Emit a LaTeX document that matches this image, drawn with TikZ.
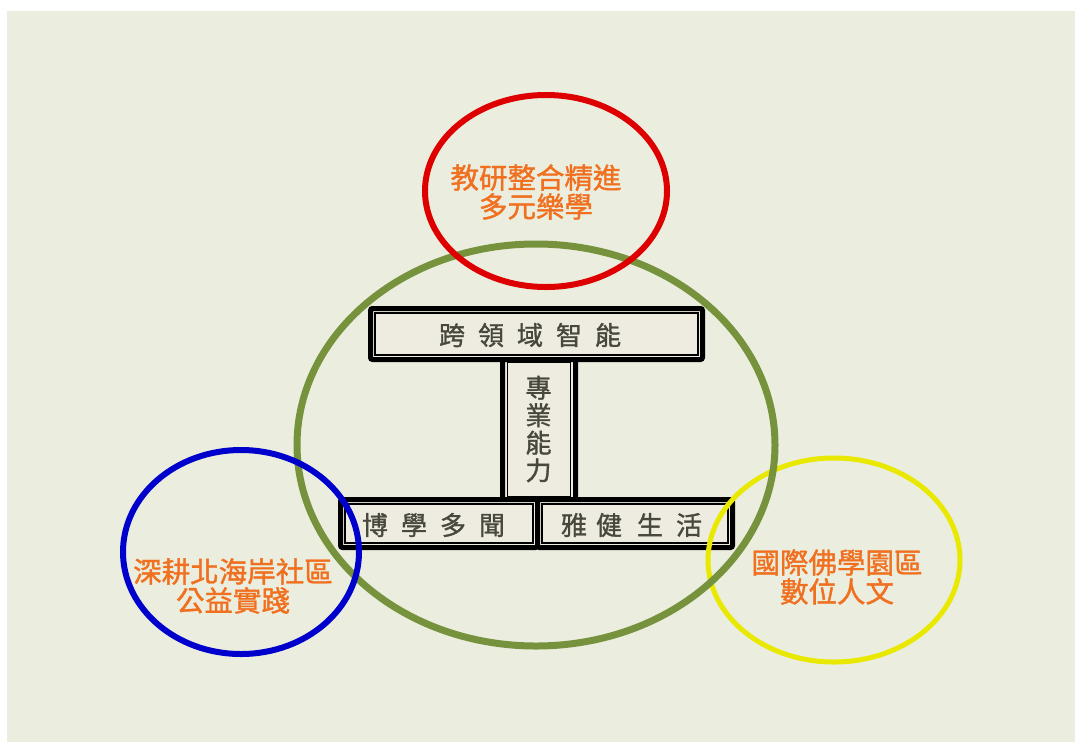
\documentclass[tikz,border=0pt]{standalone}
\usepackage{fontspec}
\newfontfamily\cjk[FakeBold=1.3]{Noto Sans CJK TC}
\definecolor{bgc}{RGB}{235,238,222}
\definecolor{boxfill}{RGB}{238,236,225}
\definecolor{greenc}{RGB}{118,146,60}
\definecolor{redc}{RGB}{222,0,0}
\definecolor{bluec}{RGB}{0,0,204}
\definecolor{yellowc}{RGB}{232,232,0}
\definecolor{orangec}{RGB}{240,112,32}
\definecolor{boxtext}{RGB}{72,72,60}
\begin{document}
\begin{tikzpicture}[x=1pt,y=-1pt,
  outerbox/.style={fill=boxfill,draw=black,line width=5pt,rounded corners=2pt},
  innerbox/.style={draw=black,line width=1.2pt},
  boxlabel/.style={font=\cjk\fontsize{26}{27.5}\selectfont,text=boxtext,inner sep=0pt},
  ringlabel/.style={font=\cjk\fontsize{28.5}{29}\selectfont,text=orangec,align=center,inner sep=0pt}]
\useasboundingbox (0,0) rectangle (1075,742);
\fill[white] (0,0) rectangle (1075,742);
\fill[bgc] (7,11) rectangle (1075,742);
% boxes
\draw[outerbox] (370.5,308.5) rectangle (702.5,359.5);
\draw[innerbox] (375,313) rectangle (698,355);
\draw[outerbox] (502.5,359.5) rectangle (575.5,500);
\draw[innerbox] (507.5,362) rectangle (570.5,497);
\draw[outerbox] (340.5,499.5) rectangle (537.5,547.5);
\draw[innerbox] (345,504) rectangle (533,543);
\draw[outerbox] (537.5,499.5) rectangle (732.5,547.5);
\draw[innerbox] (542,504) rectangle (728,543);
\node[boxlabel] (t1) at (530,335) {跨\hspace{13pt}領\hspace{13pt}域\hspace{13pt}智\hspace{13pt}能};
\node[boxlabel,align=center] (t2) at (538.5,429) {專\\業\\能\\力};
\node[boxlabel] (t3) at (433.5,525) {博\hspace{13pt}學\hspace{13pt}多\hspace{13pt}聞};
\node[boxlabel] (t4) at (631.5,525) {雅\hspace{9pt}健\hspace{15pt}生\hspace{13pt}活};
% rings
\draw[yellowc,line width=5pt] (834,560) ellipse [x radius=126, y radius=102];
\draw[greenc,line width=7pt] (536,445) ellipse [x radius=239, y radius=201];
\draw[bluec,line width=6pt] (241,552) ellipse [x radius=118, y radius=102];
\draw[redc,line width=6pt] (546,191) ellipse [x radius=121, y radius=96];
% ring labels
\node[ringlabel] (r1) at (536,192) {教研整合精進\\多元樂學};
\node[ringlabel] (r2) at (233,586) {深耕北海岸社區\\公益實踐};
\node[ringlabel] (r3) at (837,577) {國際佛學園區\\數位人文};
\end{tikzpicture}
\end{document}
